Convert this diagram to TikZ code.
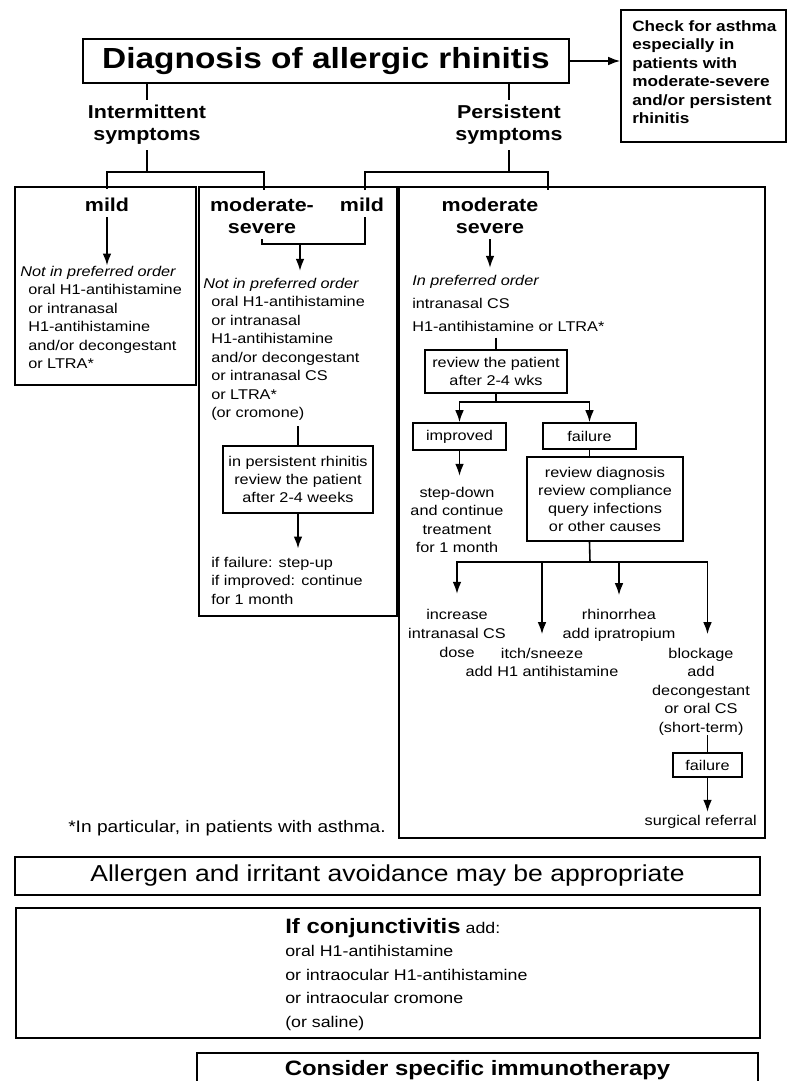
\documentclass[tikz,border=0pt]{standalone}
\usepackage{fontspec}
\setmainfont[FakeStretch=1.15]{Liberation Sans}
\usetikzlibrary{arrows.meta,fit}

% font sizes used in the chart
\newcommand\fsReg{\fontsize{10.6}{13.9}\selectfont}
\newcommand\fsRegWide{\fontsize{10.6}{17.6}\selectfont}
\newcommand\fsRegMid{\fontsize{10.6}{14.4}\selectfont}
\newcommand\fsBox{\fontsize{10.6}{13.5}\selectfont}
\newcommand\fsHead{\fontsize{14}{16.5}\selectfont\bfseries}
\newcommand\fsTitle{\fontsize{21.8}{26}\selectfont\bfseries}
\newcommand\fsCheck{\fontsize{11.2}{13.9}\selectfont\bfseries}
\newcommand\fsBig{\fontsize{17.3}{20}\selectfont}
\newcommand\fsImm{\fontsize{15.6}{18}\selectfont\bfseries}
\newcommand\fsConj{\fontsize{11.6}{17.6}\selectfont}
\newcommand\fsNote{\fontsize{12.5}{15}\selectfont}

\tikzset{
  ln/.style={line width=1.2pt},
  arr/.style={ln,-{Latex[length=9pt,width=6.5pt]}},
  panel/.style={draw,line width=1.2pt,inner sep=0pt},
  box/.style={draw,line width=1.2pt,inner sep=0pt,align=center,font=\fsBox},
  txt/.style={inner sep=0pt,font=\fsReg},
  hd/.style={inner sep=4pt,font=\fsHead,align=center},
}

\begin{document}
\begin{tikzpicture}[x=0.75pt,y=-0.75pt]
\useasboundingbox (0,0) rectangle (787,1081);
\fill[white] (0,0) rectangle (787,1081);

% ---------- title and asthma note ----------
\node[box,font=\fsTitle,minimum width={486*0.75pt},minimum height={44*0.75pt}] (title) at (326,61) {Diagnosis of allergic rhinitis};
\node[panel,fit={(621,10) (786,142)}] (checkbox) {};
\node[anchor=north west,inner sep=0pt,font=\fsCheck,align=left] (checktxt) at (632,20)
  {Check for asthma\\especially in\\patients with\\moderate-severe\\and/or persistent\\rhinitis};
\draw[arr] (title.east) -- (title.east -| checkbox.west);

% ---------- symptom branches ----------
\node[hd] (intermit) at (147,125) {Intermittent\\symptoms};
\node[hd] (persist) at (509,125) {Persistent\\symptoms};
\draw[ln] (title.south -| intermit) -- (intermit.north);
\draw[ln] (title.south -| persist) -- (persist.north);
\coordinate (ijoin) at (147,172);
\coordinate (pjoin) at (509,172);
\coordinate (ileft) at (107,189);
\coordinate (iright) at (264,190);
\coordinate (pleft) at (365,190);
\coordinate (pright) at (548,190);

% ---------- the three columns ----------
\node[panel,fit={(15,187) (196,385)}] (mildpanel) {};
\node[panel,fit={(199,187) (397,616)}] (midpanel) {};
\node[panel,fit={(399,187) (765,838)}] (rightpanel) {};

\node[hd] (mild1) at (107,205) {mild};
\node[hd] (modsev1) at (262,216) {moderate-\\severe};
\node[hd] (mild2) at (362,205) {mild};
\node[hd] (modsev2) at (490,216) {moderate\\severe};

\draw[ln] (intermit.south) -- (ijoin);
\draw[ln] (ileft) |- (ijoin) -| (iright);
\draw[ln] (persist.south) -- (pjoin);
\draw[ln] (pleft) |- (pjoin) -| (pright);

% ---------- intermittent mild ----------
\node[txt,anchor=north west,align=left] (mildtxt) at (20,265.5)
  {\textit{Not in preferred order}\\
   \hspace*{6pt}oral H1-antihistamine\\
   \hspace*{6pt}or intranasal\\
   \hspace*{6pt}H1-antihistamine\\
   \hspace*{6pt}and/or decongestant\\
   \hspace*{6pt}or LTRA*};
\draw[arr] (mild1.south) -- (mild1.south |- mildtxt.north);

% ---------- intermittent moderate-severe / persistent mild ----------
\coordinate (mjoin) at (300,244);
\draw[ln] (modsev1.south) |- (mjoin) -| (pleft |- mild2.south);
\node[txt,anchor=north west,align=left] (midtxt) at (203,277.5)
  {\textit{Not in preferred order}\\
   \hspace*{6pt}oral H1-antihistamine\\
   \hspace*{6pt}or intranasal\\
   \hspace*{6pt}H1-antihistamine\\
   \hspace*{6pt}and/or decongestant\\
   \hspace*{6pt}or intranasal CS\\
   \hspace*{6pt}or LTRA*\\
   \hspace*{6pt}(or cromone)};
\draw[arr,shorten >=5pt] (mjoin) -- (mjoin |- midtxt.north);
\node[box,minimum width={150*0.75pt},minimum height={67*0.75pt}] (midrev) at (298,479.5)
  {in persistent rhinitis\\review the patient\\after 2-4 weeks};
\draw[ln,shorten <=4pt] (midrev.north |- midtxt.south) -- (midrev.north);
\node[txt,anchor=north west,align=left] (midres) at (211,556.5)
  {if failure: step-up\\if improved: continue\\for 1 month};
\draw[arr,shorten >=6pt] (midrev.south) -- (midrev.south |- midres.north);

% ---------- persistent moderate-severe ----------
\node[txt,anchor=north west,align=left,font=\fsRegWide] (righttxt) at (412,274.5)
  {\textit{In preferred order}\\intranasal CS\\H1-antihistamine or LTRA*};
\draw[arr,shorten >=5pt] (modsev2.south) -- (modsev2.south |- righttxt.north);
\node[box,minimum width={142*0.75pt},minimum height={43*0.75pt}] (rrev) at (496,371.5)
  {review the patient\\after 2-4 wks};
\draw[ln,shorten <=4pt] (rrev.north |- righttxt.south) -- (rrev.north);

\coordinate (rsplit) at (496,402);
\node[box,minimum width={93*0.75pt},minimum height={27*0.75pt}] (improved) at (459.5,436.5) {improved};
\node[box,minimum width={93*0.75pt},minimum height={26*0.75pt}] (fail1) at (589.5,436) {failure};
\draw[ln] (rrev.south) -- (rsplit);
\draw[arr] (rsplit) -| (improved.north);
\draw[arr] (rsplit) -| (fail1.north);

\node[txt,anchor=north,align=center] (stepdown) at (457,486.5)
  {step-down\\and continue\\treatment\\for 1 month};
\draw[arr,shorten >=8pt] (improved.south) -- (improved.south |- stepdown.north);

\node[box,minimum width={156*0.75pt},minimum height={84*0.75pt}] (review2) at (605,499)
  {review diagnosis\\review compliance\\query infections\\or other causes};
\draw[ln] (fail1.south) -- (fail1.south |- review2.north);
\coordinate (rsplit2) at (590,562);
\draw[ln] (fail1.south |- review2.south) -- (rsplit2);

\node[txt,anchor=north,align=center,font=\fsRegMid] (incr) at (457,608.5)
  {increase\\intranasal CS\\dose};
\node[txt,anchor=north,align=center] (itch) at (542,647.5)
  {itch/sneeze\\add H1 antihistamine};
\node[txt,anchor=north,align=center,font=\fsRegMid] (rhin) at (619,608.5)
  {rhinorrhea\\add ipratropium};
\node[txt,anchor=north,align=center] (block) at (701,647.5)
  {blockage\\add\\decongestant\\or oral CS\\(short-term)};
\node[box,minimum width={69*0.75pt},minimum height={24*0.75pt}] (fail2) at (707.5,765) {failure};

\draw[arr,shorten >=11pt] (rsplit2) -| (incr.north);
\draw[arr,shorten >=10pt] (rsplit2) -| (itch.north);
\draw[arr,shorten >=10pt] (rsplit2) -| (rhin.north);
\draw[arr,shorten >=10pt] (rsplit2) -| (fail2.north |- block.north);
\draw[ln] (fail2.north |- block.south) -- (fail2.north);

\node[txt,anchor=north east] (surg) at (757,814.5) {surgical referral};
\draw[arr,shorten >=2pt] (fail2.south) -- (fail2.south |- surg.north);

% ---------- footnote and general measures ----------
\node[anchor=base west,inner sep=0pt,font=\fsNote] (note) at (68,832) {*In particular, in patients with asthma.};

\node[box,font=\fsBig,minimum width={745*0.75pt},minimum height={38*0.75pt}] (avoid) at (387.5,876)
  {Allergen and irritant avoidance may be appropriate};

\node[panel,fit={(16,908) (760,1038)}] (conjbox) {};
\node[anchor=north west,inner sep=0pt,align=left,font=\fsConj] (conj) at (285,918)
  {{\fsImm If conjunctivitis} add:\\oral H1-antihistamine\\or intraocular H1-antihistamine\\or intraocular cromone\\(or saline)};

\node[panel,fit={(197,1053) (758,1100)}] (immbox) {};
\node[inner sep=0pt,font=\fsImm] (imm) at (477.5,1070) {Consider specific immunotherapy};
\end{tikzpicture}
\end{document}
